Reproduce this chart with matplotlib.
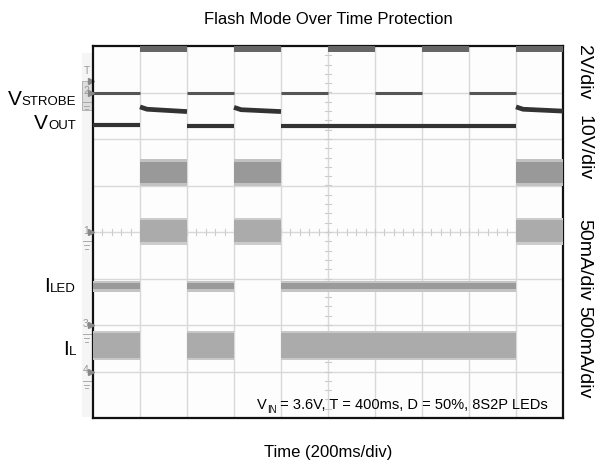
import numpy as np
import matplotlib
matplotlib.use("Agg")
import matplotlib.pyplot as plt

plt.rcParams["font.family"] = ["Liberation Sans", "DejaVu Sans"]

W, H = 604, 463

# time in divisions (200ms/div), 10 divisions across the screen
div_start = np.arange(10)
strobe_high = [0, 1, 0, 1, 0, 1, 0, 1, 0, 1]
led_on = [1, 0, 1, 0, 1, 1, 1, 1, 1, 0]

# levels in screen divisions (0 = bottom, 8 = top)
strobe_hi_band = (7.87, 8.0)
strobe_lo_level = 6.99
vout_on_level = [6.31, None, 6.28, None, 6.27, 6.27, 6.27, 6.27, 6.27, None]
# VOUT while LED is off: sampled at 0, 0.15 and 1.0 div into the segment
vout_off_t = [0.0, 0.15, 1.0]
vout_off = {1: [6.69, 6.64, 6.59], 3: [6.68, 6.63, 6.59], 9: [6.69, 6.64, 6.60]}
off_band_upper = (5.03, 5.53)
off_band_lower = (3.76, 4.28)
iled_band = (2.75, 2.92)
il_band = (1.27, 1.84)

channel_marks = [("2", 7.0), ("1", 4.0), ("3", 2.0), ("4", 1.0)]


def fx(px):
    return px / W


def fy(py):
    return 1 - py / H


def band(ax, x0, lohi, core, edge):
    lo, hi = lohi
    ax.fill_between([x0, x0 + 1], [lo - 0.03] * 2, [hi + 0.03] * 2,
                    color=edge, lw=0, zorder=3)
    ax.fill_between([x0, x0 + 1], [lo + 0.02] * 2, [hi - 0.02] * 2,
                    color=core, lw=0, zorder=3)


fig = plt.figure(figsize=(W / 100, H / 100), dpi=100)
ax = fig.add_axes([fx(93), fy(418), 470 / W, 372 / H])
ax.set_xlim(0, 10)
ax.set_ylim(0, 8)
ax.set_facecolor("#fdfdfd")
ax.set_xticks([])
ax.set_yticks([])
for s in ax.spines.values():
    s.set_linewidth(1.6)
    s.set_color("#111111")

for x in range(1, 10):
    ax.axvline(x, color="#d9d9d9", lw=1, zorder=1)
for y in range(1, 8):
    ax.axhline(y, color="#d9d9d9", lw=1, zorder=1)

# centre graticule ticks
for t in np.arange(0.2, 10, 0.2):
    ax.plot([t, t], [3.94, 4.06], color="#cccccc", lw=0.8, zorder=1)
for t in np.arange(0.2, 8, 0.2):
    ax.plot([4.94, 5.06], [t, t], color="#cccccc", lw=0.8, zorder=1)

for i, x0 in enumerate(div_start):
    # strobe
    if strobe_high[i]:
        ax.fill_between([x0, x0 + 1], [strobe_hi_band[0]] * 2, [strobe_hi_band[1]] * 2,
                        color="#666666", lw=0, zorder=4)
    else:
        ax.plot([x0, x0 + 1], [strobe_lo_level] * 2, color="#555555", lw=2.2,
                solid_capstyle="butt", zorder=4)
    # output voltage and currents
    if led_on[i]:
        ax.plot([x0, x0 + 1], [vout_on_level[i]] * 2, color="#333333", lw=3.0,
                solid_capstyle="butt", zorder=4)
        band(ax, x0, iled_band, "#9a9a9a", "#c4c4c4")
        band(ax, x0, il_band, "#ababab", "#c8c8c8")
    else:
        ax.plot([x0 + t for t in vout_off_t], vout_off[i], color="#333333",
                lw=3.4, solid_capstyle="butt", zorder=4)
        band(ax, x0, off_band_upper, "#999999", "#c2c2c2")
        band(ax, x0, off_band_lower, "#ababab", "#cccccc")

# channel markers on the left edge
ax.fill_between([-0.24, 0], [0.02] * 2, [7.85] * 2, color="#f5f5f5", lw=0,
                clip_on=False, zorder=0)
for lab, v in channel_marks:
    ax.plot(-0.04, v, marker=">", color="#888888", ms=4.5, clip_on=False, zorder=5)
    ax.text(-0.15, v + 0.03, lab, fontsize=7.5, color="#999999", ha="center",
            va="center", clip_on=False)
    gx = -0.13
    for k, w in enumerate([0.08, 0.055, 0.03]):
        ax.plot([gx - w, gx + w], [v - 0.2 - 0.08 * k] * 2, color="#aaaaaa",
                lw=0.7, clip_on=False)
ax.add_patch(plt.Rectangle((-0.24, 6.62), 0.24, 0.62, facecolor="#dddddd",
                           edgecolor="#aaaaaa", lw=0.6, clip_on=False, zorder=0.5))
ax.text(-0.12, 7.35, "T", fontsize=7.5, color="#999999", ha="center", va="bottom",
        clip_on=False)
ax.plot(-0.04, 7.25, marker=">", color="#888888", ms=4.5, clip_on=False)

# texts
fig.text(fx(328), fy(19), "Flash Mode Over Time Protection", fontsize=12,
         ha="center", va="center")
fig.text(fx(328), fy(452), "Time (200ms/div)", fontsize=12, ha="center", va="center")

left_labels = [("V", "STROBE", 105), ("V", "OUT", 129), ("I", "LED", 292), ("I", "L", 355)]
renderer = fig.canvas.get_renderer()
for main, sub, base in left_labels:
    t_sub = fig.text(fx(76), fy(base), sub, fontsize=9.5, ha="right", va="baseline")
    bb = t_sub.get_window_extent(renderer)
    fig.text(bb.x0 / W, fy(base), main, fontsize=15, ha="right", va="baseline")

right_labels = [("2V/div", 72), ("10V/div", 148), ("50mA/div", 260), ("500mA/div", 352)]
for lab, yc in right_labels:
    fig.text(fx(584), fy(yc), lab, fontsize=14, rotation=-90, ha="center", va="center")

# bottom annotation inside the screen
t_rest = fig.text(fx(548), fy(409), " = 3.6V, T = 400ms, D = 50%, 8S2P LEDs",
                  fontsize=10.5, ha="right", va="baseline")
bb = t_rest.get_window_extent(renderer)
t_in = fig.text(bb.x0 / W, fy(413), "IN", fontsize=7, ha="right", va="baseline")
bb2 = t_in.get_window_extent(renderer)
fig.text(bb2.x0 / W, fy(409), "V", fontsize=10.5, ha="right", va="baseline")

fig.savefig("out.png", dpi=100)
